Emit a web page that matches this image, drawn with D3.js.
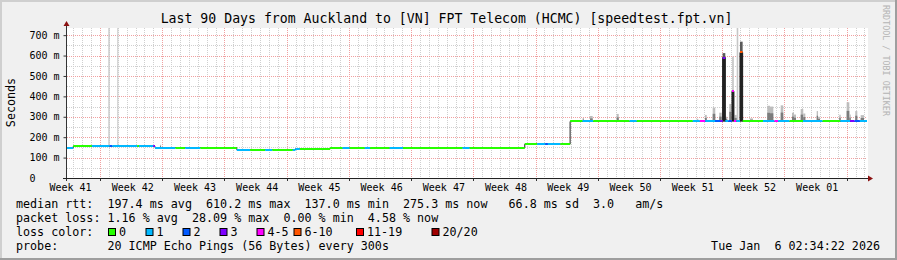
<!DOCTYPE html>
<html>
<head>
<meta charset="utf-8">
<script src="https://cdn.jsdelivr.net/npm/d3@7"></script>
<style>
  body { margin: 0; background: #f0f0f0; }
  svg { display: block; }
  text { font-family: "DejaVu Sans Mono", monospace; white-space: pre; }
</style>
</head>
<body>
<script>
const title = "Last 90 Days from Auckland to [VN] FPT Telecom (HCMC) [speedtest.fpt.vn]";

// x is in days since the left edge of the graph (90 days wide)
const weekLabels = ["Week 41", "Week 42", "Week 43", "Week 44", "Week 45", "Week 46", "Week 47",
  "Week 48", "Week 49", "Week 50", "Week 51", "Week 52", "Week 01"];
const firstWeekLine = 3.71;   // day of the first red week line
const firstDayLine = 0.71;    // day of the first gray day line

const yTicks = [0, 100, 200, 300, 400, 500, 600, 700];
const yTickLabels = ["0", "100 m", "200 m", "300 m", "400 m", "500 m", "600 m", "700 m"];

// median rtt (ms): [from day, to day, value]
const medianSegments = [
  [0.0, 0.7, 148],
  [0.7, 9.9, 155],
  [9.9, 19.1, 149],
  [19.1, 25.7, 139],
  [25.7, 29.6, 143],
  [29.6, 39.7, 146],
  [39.7, 51.5, 148],
  [51.5, 56.6, 166],
  [56.6, 90.0, 277]
];

// loss colour bucket along the median: [from day, to day, bucket]
const lossSegments = [
  [0.0, 0.7, 1], [0.7, 2.8, 0], [2.8, 4.8, 1], [4.8, 5.1, 2], [5.1, 7.9, 1],
  [7.9, 8.1, 0], [8.1, 9.7, 1], [9.7, 9.9, 3], [9.9, 12.2, 1], [12.2, 13.3, 0],
  [13.3, 15.0, 1], [15.0, 19.1, 0], [19.1, 20.6, 1], [20.6, 22.3, 0], [22.3, 23.1, 1],
  [23.1, 25.4, 0], [25.4, 26.2, 1], [26.2, 31.0, 0], [31.0, 31.8, 1], [31.8, 33.5, 0],
  [33.5, 34.1, 1], [34.1, 36.3, 0], [36.3, 37.8, 1], [37.8, 44.5, 0], [44.5, 45.3, 1],
  [45.3, 52.9, 0], [52.9, 53.8, 1], [53.8, 54.1, 2], [54.1, 55.5, 1], [55.5, 58.0, 0],
  [58.0, 59.2, 1], [59.2, 63.3, 0], [63.3, 64.1, 1], [64.1, 70.4, 0], [70.4, 71.2, 1],
  [71.2, 71.8, 4], [71.8, 72.9, 1], [72.9, 73.5, 2], [73.5, 73.9, 3], [73.9, 74.4, 1],
  [74.4, 74.8, 2], [74.8, 75.3, 4], [75.3, 76.0, 1], [76.0, 78.3, 0], [78.3, 79.6, 1],
  [79.6, 80.0, 4], [80.0, 81.3, 1], [81.3, 82.8, 0], [82.8, 85.0, 1], [85.0, 87.0, 0],
  [87.0, 88.1, 1], [88.1, 88.6, 3], [88.6, 89.2, 2], [89.2, 90.0, 1]
];

// times the median itself jumped: [from day, to day, median ms, bucket, smoke top ms]
const spikes = [
  [73.76, 74.06, 590, 3, 612],
  [74.81, 75.03, 425, 4, 595],
  [75.71, 76.01, 615, 5, 668]
];

// smoke above the median: [from day, to day, highest ping ms]
const smoke = [
  [10.46, 10.58, 163], [58.01, 58.16, 294], [58.84, 59.14, 304], [61.84, 62.07, 314],
  [70.84, 71.02, 290], [71.77, 71.97, 309], [72.64, 72.93, 345], [73.38, 73.65, 320],
  [74.06, 74.28, 300], [74.51, 74.73, 363], [75.11, 75.34, 309], [76.83, 77.17, 292],
  [78.78, 79.09, 354], [79.09, 79.46, 350], [80.29, 80.58, 356], [81.56, 81.79, 320],
  [81.79, 82.01, 311], [82.54, 82.83, 338], [82.83, 83.06, 316], [84.34, 84.49, 328],
  [84.49, 84.71, 300], [86.88, 87.04, 310], [87.71, 88.01, 371], [88.01, 88.17, 311],
  [88.68, 88.91, 328], [89.29, 89.66, 308]
];

// single pings far off the top of the scale
const outliers = [[4.65, 4.80, 900], [5.66, 5.77, 900], [75.34, 75.52, 900]];

const lossNames = ["0", "1", "2", "3", "4-5", "6-10", "11-19", "20/20"];
const lossColors = ["#26ff00", "#00b8ff", "#0059ff", "#7e00ff", "#ff00ff", "#ff5500", "#ff0000", "#a00000"];

const rttLine = "median rtt:  197.4 ms avg  610.2 ms max  137.0 ms min  275.3 ms now   66.8 ms sd  3.0   am/s";
const lossLine = "packet loss: 1.16 % avg  28.09 % max  0.00 % min  4.58 % now";
const probeLine = "probe:       20 ICMP Echo Pings (56 Bytes) every 300s";
const stamp = "Tue Jan  6 02:34:22 2026";

const width = 897, height = 260;
const plotLeft = 67, plotRight = 867, plotTop = 28, plotBottom = 178;
const axisCharWidth = 6.02;   // 10px DejaVu Sans Mono

const x = d3.scaleLinear().domain([0, 90]).range([plotLeft, plotRight]);
const y = d3.scaleLinear().domain([0, 735]).range([plotBottom, plotTop]);

const svg = d3.select("body")
  .append("svg")
  .attr("width", width)
  .attr("height", height)
  .attr("xml:space", "preserve");

// background and bevel
svg.append("rect").attr("width", width).attr("height", height).attr("fill", "#f0f0f0");
svg.append("rect").attr("width", width).attr("height", 2).attr("fill", "#cfcfcf");
svg.append("rect").attr("width", 2).attr("height", height).attr("fill", "#cfcfcf");
svg.append("rect").attr("y", height - 2).attr("width", width).attr("height", 2).attr("fill", "#9e9e9e");
svg.append("rect").attr("x", width - 2).attr("width", 2).attr("height", height).attr("fill", "#9e9e9e");

// canvas
svg.append("rect")
  .attr("x", plotLeft).attr("y", plotTop)
  .attr("width", plotRight + 1 - plotLeft).attr("height", plotBottom - plotTop)
  .attr("fill", "#ffffff");

svg.append("defs").append("clipPath").attr("id", "plot")
  .append("rect")
  .attr("x", plotLeft).attr("y", plotTop)
  .attr("width", plotRight + 1 - plotLeft).attr("height", plotBottom - plotTop);

// grid
const grid = svg.append("g").attr("stroke-dasharray", "1,1").attr("stroke-width", 1);

const dayLines = d3.range(firstDayLine, 90, 1);
const weekLines = weekLabels.map(function (d, i) { return firstWeekLine + 7 * i; });
const minorY = d3.range(50, 735, 100);

grid.selectAll(".vminor")
  .data(dayLines)
  .enter()
  .append("line")
  .attr("x1", function (d) { return Math.round(x(d)) + 0.5; })
  .attr("x2", function (d) { return Math.round(x(d)) + 0.5; })
  .attr("y1", plotTop).attr("y2", plotBottom)
  .attr("stroke", "#cfcfcf");

grid.selectAll(".hminor")
  .data(minorY)
  .enter()
  .append("line")
  .attr("x1", plotLeft).attr("x2", plotRight)
  .attr("y1", function (d) { return Math.round(y(d)) + 0.5; })
  .attr("y2", function (d) { return Math.round(y(d)) + 0.5; })
  .attr("stroke", "#cfcfcf");

grid.selectAll(".vmajor")
  .data(weekLines)
  .enter()
  .append("line")
  .attr("x1", function (d) { return Math.round(x(d)) + 0.5; })
  .attr("x2", function (d) { return Math.round(x(d)) + 0.5; })
  .attr("y1", plotTop).attr("y2", plotBottom)
  .attr("stroke", "#f0a0a0");

grid.selectAll(".hmajor")
  .data(yTicks.slice(1))
  .enter()
  .append("line")
  .attr("x1", plotLeft).attr("x2", plotRight)
  .attr("y1", function (d) { return Math.round(y(d)) + 0.5; })
  .attr("y2", function (d) { return Math.round(y(d)) + 0.5; })
  .attr("stroke", "#f0a0a0");

// lookups
function baseMedian(d) {
  const m = medianSegments.find(function (m) { return d >= m[0] && d < m[1]; });
  return m ? m[2] : medianSegments[medianSegments.length - 1][2];
}
function medianAt(d) {
  const s = spikes.find(function (s) { return d >= s[0] && d < s[1]; });
  return s ? s[2] : baseMedian(d);
}
function lossAt(d) {
  const s = spikes.find(function (s) { return d >= s[0] && d < s[1]; });
  if (s) return s[3];
  const l = lossSegments.find(function (l) { return d >= l[0] && d < l[1]; });
  return l ? l[2] : 0;
}

const plot = svg.append("g").attr("clip-path", "url(#plot)");

// off-scale pings
plot.selectAll(".outlier")
  .data(outliers)
  .enter()
  .append("rect")
  .attr("x", function (d) { return x(d[0]); })
  .attr("width", function (d) { return Math.max(1, x(d[1]) - x(d[0])); })
  .attr("y", function (d) { return y(Math.min(d[2], 735)); })
  .attr("height", function (d) { return y(baseMedian((d[0] + d[1]) / 2)) - y(Math.min(d[2], 735)); })
  .attr("fill", "#c6c6c6");

// smoke: light outer part, darker part near the median
const smokeG = plot.selectAll(".smoke")
  .data(smoke)
  .enter()
  .append("g");

smokeG.append("rect")
  .attr("x", function (d) { return x(d[0]); })
  .attr("width", function (d) { return x(d[1]) - x(d[0]); })
  .attr("y", function (d) { return y(d[2]); })
  .attr("height", function (d) { return y(baseMedian(d[0])) - y(d[2]); })
  .attr("fill", "#bdbdbd");

smokeG.append("rect")
  .attr("x", function (d) { return x(d[0]); })
  .attr("width", function (d) { return x(d[1]) - x(d[0]); })
  .attr("y", function (d) {
    const b = baseMedian(d[0]);
    return y(b + (d[2] - b) * 0.55);
  })
  .attr("height", function (d) {
    const b = baseMedian(d[0]);
    return y(b) - y(b + (d[2] - b) * 0.55);
  })
  .attr("fill", "#7c7c7c");

// spikes: smoke, then dark median body
plot.selectAll(".spikesmoke")
  .data(spikes)
  .enter()
  .append("rect")
  .attr("x", function (d) { return x(d[0]); })
  .attr("width", function (d) { return x(d[1]) - x(d[0]); })
  .attr("y", function (d) { return y(d[4]); })
  .attr("height", function (d) { return y(baseMedian(d[0])) - y(d[4]); })
  .attr("fill", function (d) { return d[4] - d[2] > 100 ? "#cccccc" : "#5a5a5a"; });

plot.selectAll(".spike")
  .data(spikes)
  .enter()
  .append("rect")
  .attr("x", function (d) { return x(d[0]); })
  .attr("width", function (d) { return x(d[1]) - x(d[0]); })
  .attr("y", function (d) { return y(d[2]); })
  .attr("height", function (d) { return y(baseMedian(d[0])) - y(d[2]); })
  .attr("fill", "#222222");

// pieces of the median between every change of value or loss
const breaks = Array.from(new Set(
  medianSegments.flatMap(function (d) { return [d[0], d[1]]; })
    .concat(lossSegments.flatMap(function (d) { return [d[0], d[1]]; }))
    .concat(spikes.flatMap(function (d) { return [d[0], d[1]]; }))
)).sort(function (a, b) { return a - b; });

const pieces = [];
for (let i = 0; i < breaks.length - 1; i++) {
  const mid = (breaks[i] + breaks[i + 1]) / 2;
  pieces.push({ x0: breaks[i], x1: breaks[i + 1], v: medianAt(mid), loss: lossAt(mid) });
}

const stepPoints = pieces.map(function (p) { return [p.x0, p.v]; });
stepPoints.push([90, pieces[pieces.length - 1].v]);

plot.append("path")
  .datum(stepPoints)
  .attr("fill", "none")
  .attr("stroke", "#202020")
  .attr("stroke-width", 1)
  .attr("d", d3.line()
    .x(function (d) { return x(d[0]); })
    .y(function (d) { return y(d[1]); })
    .curve(d3.curveStepAfter));

plot.selectAll(".loss")
  .data(pieces)
  .enter()
  .append("rect")
  .attr("x", function (d) { return x(d.x0); })
  .attr("width", function (d) { return x(d.x1) - x(d.x0); })
  .attr("y", function (d) { return Math.round(y(d.v)) - 1; })
  .attr("height", 2)
  .attr("fill", function (d) { return lossColors[d.loss]; });

// axes
const yAxis = svg.append("g")
  .attr("transform", "translate(" + (plotLeft - 0.5) + ",0)")
  .call(d3.axisLeft(y)
    .tickValues(yTicks)
    .tickFormat(function (d, i) { return yTickLabels[i]; })
    .tickSize(3)
    .tickPadding(4)
    .tickSizeOuter(0));
yAxis.select(".domain").remove();
yAxis.attr("font-family", null).attr("font-size", null);
// short labels keep the column of the digits, as rrdtool pads them
yAxis.selectAll("text")
  .style("font-size", "10px")
  .attr("fill", "#000")
  .attr("dx", function (d, i) { return -(5 - yTickLabels[i].length) * axisCharWidth; });
yAxis.selectAll("line").attr("stroke", "#333");

const xAxis = svg.append("g")
  .attr("transform", "translate(0," + plotBottom + ")")
  .call(d3.axisBottom(x)
    .tickValues(weekLines.map(function (d) { return d - 3.37; }))
    .tickFormat(function (d, i) { return weekLabels[i]; })
    .tickSize(0)
    .tickPadding(5.5));
xAxis.select(".domain").remove();
xAxis.attr("font-family", null).attr("font-size", null);
xAxis.selectAll("text").style("font-size", "10px").attr("fill", "#000");

svg.selectAll(".xtick")
  .data(weekLines)
  .enter()
  .append("line")
  .attr("x1", function (d) { return Math.round(x(d)) + 0.5; })
  .attr("x2", function (d) { return Math.round(x(d)) + 0.5; })
  .attr("y1", plotBottom).attr("y2", plotBottom + 3)
  .attr("stroke", "#333");

svg.append("line")
  .attr("x1", plotLeft - 0.5).attr("x2", plotLeft - 0.5)
  .attr("y1", plotBottom + 3).attr("y2", 25)
  .attr("stroke", "#333");
svg.append("line")
  .attr("x1", plotLeft - 4).attr("x2", plotRight + 2)
  .attr("y1", plotBottom + 0.5).attr("y2", plotBottom + 0.5)
  .attr("stroke", "#222");

svg.append("path")
  .attr("d", "M" + (plotLeft - 3.5) + ",26 L" + (plotLeft - 0.5) + ",21 L" + (plotLeft + 2.5) + ",26 Z")
  .attr("fill", "#8b1111");
svg.append("path")
  .attr("d", "M" + (plotRight + 1) + "," + (plotBottom - 2.5) + " L" + (plotRight + 6) + "," + (plotBottom + 0.5) +
    " L" + (plotRight + 1) + "," + (plotBottom + 3.5) + " Z")
  .attr("fill", "#8b1111");

// title and side labels
svg.append("text")
  .attr("x", 446.5).attr("y", 22.5)
  .attr("text-anchor", "middle")
  .style("font-size", "13.2px")
  .text(title);

svg.append("text")
  .attr("transform", "translate(14.5,102.5) rotate(-90)")
  .attr("text-anchor", "middle")
  .style("font-size", "11.7px")
  .text("Seconds");

svg.append("text")
  .attr("transform", "translate(883,5) rotate(90)")
  .style("font-size", "8.4px")
  .attr("fill", "#b4b4b4")
  .text("RRDTOOL / TOBI OETIKER");

// legend
const legend = svg.append("g").style("font-size", "11.7px");

legend.append("text").attr("x", 16).attr("y", 208).text(rttLine);
legend.append("text").attr("x", 16).attr("y", 222).text(lossLine);
legend.append("text").attr("x", 16).attr("y", 236).text("loss color:");
legend.append("text").attr("x", 16).attr("y", 250).text(probeLine);
legend.append("text").attr("x", 880).attr("y", 250).attr("text-anchor", "end").text(stamp);

const legendX = [108, 145.5, 182.5, 219.5, 256.5, 293.5, 356, 431.5];
const keys = legend.selectAll(".key")
  .data(lossNames)
  .enter()
  .append("g")
  .attr("transform", function (d, i) { return "translate(" + legendX[i] + ",0)"; });

keys.append("rect")
  .attr("x", 0.5).attr("y", 228.5)
  .attr("width", 7).attr("height", 7)
  .attr("fill", function (d, i) { return lossColors[i]; })
  .attr("stroke", "#000");

keys.append("text")
  .attr("x", 11).attr("y", 236)
  .text(function (d) { return d; });
</script>
</body>
</html>
